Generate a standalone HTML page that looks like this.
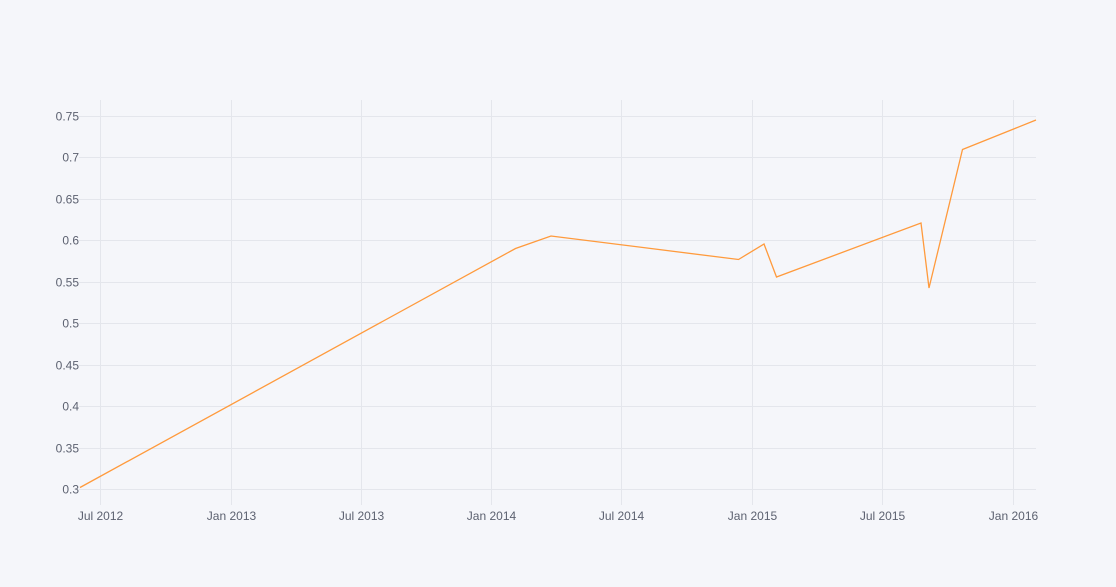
<!DOCTYPE html>
<html><head><style>
html,body{margin:0;padding:0;background:#f5f6fa;}
svg{display:block;font-family:"Liberation Sans",sans-serif;}
</style></head><body>
<svg width="1116" height="587" xmlns="http://www.w3.org/2000/svg">
<rect width="1116" height="587" fill="#f5f6fa"/>
<g stroke="#e4e6ec" stroke-width="1">
<line x1="79" x2="1036" y1="116.5" y2="116.5"/>
<line x1="79" x2="1036" y1="157.5" y2="157.5"/>
<line x1="79" x2="1036" y1="199.5" y2="199.5"/>
<line x1="79" x2="1036" y1="240.5" y2="240.5"/>
<line x1="79" x2="1036" y1="282.5" y2="282.5"/>
<line x1="79" x2="1036" y1="323.5" y2="323.5"/>
<line x1="79" x2="1036" y1="365.5" y2="365.5"/>
<line x1="79" x2="1036" y1="406.5" y2="406.5"/>
<line x1="79" x2="1036" y1="448.5" y2="448.5"/>
<line x1="79" x2="1036" y1="489.5" y2="489.5"/>
<line x1="100.5" x2="100.5" y1="100" y2="505"/>
<line x1="231.5" x2="231.5" y1="100" y2="505"/>
<line x1="361.5" x2="361.5" y1="100" y2="505"/>
<line x1="491.5" x2="491.5" y1="100" y2="505"/>
<line x1="621.5" x2="621.5" y1="100" y2="505"/>
<line x1="752.5" x2="752.5" y1="100" y2="505"/>
<line x1="882.5" x2="882.5" y1="100" y2="505"/>
<line x1="1013.5" x2="1013.5" y1="100" y2="505"/>
</g>
<polyline fill="none" stroke="#ff9a3c" stroke-width="1.3" points="80,487.5 515.5,248.5 551,236 738.5,259.5 764,244 776.5,277 921,223 929,288 962.5,149.5 1036,120"/>
<g fill="#5c6170" font-size="12" text-anchor="end">
<text x="79" y="120.5">0.75</text>
<text x="79" y="161.5">0.7</text>
<text x="79" y="203.5">0.65</text>
<text x="79" y="244.5">0.6</text>
<text x="79" y="286.5">0.55</text>
<text x="79" y="327.5">0.5</text>
<text x="79" y="369.5">0.45</text>
<text x="79" y="410.5">0.4</text>
<text x="79" y="452.5">0.35</text>
<text x="79" y="493.5">0.3</text>
</g>
<g fill="#5c6170" font-size="12" text-anchor="middle">
<text x="100.5" y="520">Jul 2012</text>
<text x="231.5" y="520">Jan 2013</text>
<text x="361.5" y="520">Jul 2013</text>
<text x="491.5" y="520">Jan 2014</text>
<text x="621.5" y="520">Jul 2014</text>
<text x="752.5" y="520">Jan 2015</text>
<text x="882.5" y="520">Jul 2015</text>
<text x="1013.5" y="520">Jan 2016</text>
</g>
</svg>
</body></html>
